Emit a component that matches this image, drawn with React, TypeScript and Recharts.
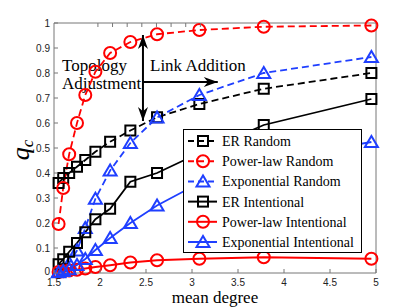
import React from "react";
import { ComposedChart, Line, XAxis, YAxis, ReferenceLine, Legend } from "recharts";

// mean degree positions shared by all six curves
const meanDegree = [1.55, 1.6, 1.665, 1.75, 1.84, 1.95, 2.11, 2.33, 2.62, 3.08, 3.78, 4.95];

const erRandom = [0.36, 0.38, 0.4, 0.425, 0.452, 0.485, 0.525, 0.57, 0.623, 0.676, 0.737, 0.8];
const plRandom = [0.196, 0.34, 0.475, 0.6, 0.712, 0.805, 0.88, 0.924, 0.955, 0.972, 0.985, 0.99];
const expRandom = [0.005, 0.015, 0.04, 0.09, 0.18, 0.297, 0.41, 0.52, 0.622, 0.712, 0.8, 0.864];
const erIntentional = [0.035, 0.055, 0.085, 0.12, 0.163, 0.215, 0.257, 0.365, 0.4, 0.48, 0.592, 0.696];
const plIntentional = [0.004, 0.007, 0.01, 0.013, 0.018, 0.024, 0.031, 0.042, 0.051, 0.057, 0.063, 0.057];
const expIntentional = [0.003, 0.008, 0.015, 0.032, 0.056, 0.092, 0.14, 0.2, 0.27, 0.36, 0.45, 0.524];

const xTicks = [1.5, 2, 2.5, 3, 3.5, 4, 4.5, 5];
const yTicks = [0, 0.1, 0.2, 0.3, 0.4, 0.5, 0.6, 0.7, 0.8, 0.9, 1];

const data = meanDegree.map((x, i) => ({
  x,
  erRandom: erRandom[i],
  plRandom: plRandom[i],
  expRandom: expRandom[i],
  erIntentional: erIntentional[i],
  plIntentional: plIntentional[i],
  expIntentional: expIntentional[i],
}));

const BLACK = "#000000";
const RED = "#ff0000";
const BLUE = "#1f3fff";
const DASH = "7 4";

const series = [
  { key: "erRandom", name: "ER Random", color: BLACK, dash: DASH, marker: "square" },
  { key: "plRandom", name: "Power-law Random", color: RED, dash: DASH, marker: "circle" },
  { key: "expRandom", name: "Exponential Random", color: BLUE, dash: DASH, marker: "triangle" },
  { key: "erIntentional", name: "ER Intentional", color: BLACK, dash: undefined, marker: "square" },
  { key: "plIntentional", name: "Power-law Intentional", color: RED, dash: undefined, marker: "circle" },
  { key: "expIntentional", name: "Exponential Intentional", color: BLUE, dash: undefined, marker: "triangle" },
];

const SERIF = "'Liberation Serif', 'Times New Roman', serif";
const SANS = "'Liberation Sans', Arial, sans-serif";
const FRAME = "#777";

function Marker({ kind, cx, cy, color }: any) {
  if (kind === "square") {
    return <rect x={cx - 5} y={cy - 5} width={10} height={10} fill="none" stroke={color} strokeWidth={2} />;
  }
  if (kind === "circle") {
    return <circle cx={cx} cy={cy} r={6} fill="none" stroke={color} strokeWidth={2} />;
  }
  return (
    <polygon
      points={`${cx},${cy - 6} ${cx - 6.5},${cy + 5} ${cx + 6.5},${cy + 5}`}
      fill="none"
      stroke={color}
      strokeWidth={2}
      strokeLinejoin="miter"
    />
  );
}

const makeDot = (kind: string, color: string) => (props: any) => {
  const { cx, cy, index } = props;
  if (cx == null || cy == null) return <g key={index} />;
  return (
    <g key={index}>
      <Marker kind={kind} cx={cx} cy={cy} color={color} />
    </g>
  );
};

const BottomTick = ({ x, y, payload }: any) => (
  <g>
    <line x1={x} x2={x} y1={y} y2={y - 4} stroke={FRAME} />
    <text x={x} y={y + 12.5} textAnchor="middle" fontSize={10} fontFamily={SANS} fill="#222">
      {payload.value}
    </text>
  </g>
);

const LeftTick = ({ x, y, payload }: any) => (
  <g>
    <line x1={x} x2={x + 4} y1={y} y2={y} stroke={FRAME} />
    {/* the 0 label sits a touch higher so it clears the 1.5 below it */}
    <text x={x - 4} y={y + (payload.value === 0 ? 1.6 : 3.5)} textAnchor="end" fontSize={10} fontFamily={SANS} fill="#222">
      {payload.value}
    </text>
  </g>
);

const TopTick = ({ x, y }: any) => <line x1={x} x2={x} y1={y} y2={y + 4} stroke={FRAME} />;
const RightTick = ({ x, y }: any) => <line x1={x} x2={x - 4} y1={y} y2={y} stroke={FRAME} />;

function head(tx: number, ty: number, dx: number, dy: number) {
  // stealth style arrow head pointing along (dx, dy)
  const len = 14;
  const half = 5;
  const px = -dy;
  const py = dx;
  const bx = tx - dx * len;
  const by = ty - dy * len;
  const nx = tx - dx * len * 0.7;
  const ny = ty - dy * len * 0.7;
  return `${tx},${ty} ${bx + px * half},${by + py * half} ${nx},${ny} ${bx - px * half},${by - py * half}`;
}

const arrowShape = (both: boolean) => (props: any) => {
  const { x1, y1, x2, y2 } = props;
  const l = Math.hypot(x2 - x1, y2 - y1) || 1;
  const dx = (x2 - x1) / l;
  const dy = (y2 - y1) / l;
  return (
    <g>
      <line x1={x1} y1={y1} x2={x2} y2={y2} stroke="#000" strokeWidth={2} />
      <polygon points={head(x2, y2, dx, dy)} fill="#000" />
      {both && <polygon points={head(x1, y1, -dx, -dy)} fill="#000" />}
    </g>
  );
};

function LegendBox() {
  return (
    <div
      style={{
        width: 179,
        height: 124,
        boxSizing: "border-box",
        border: "1px solid #000",
        background: "#fff",
      }}
    >
      <svg width={177} height={122} style={{ display: "block" }}>
        {series.map((s, i) => {
          const y = 11 + i * 20.2;
          return (
            <g key={s.key}>
              <line x1={4} x2={33} y1={y} y2={y} stroke={s.color} strokeWidth={2} strokeDasharray={s.dash ? "6 4" : undefined} />
              <Marker kind={s.marker} cx={19} cy={y} color={s.color} />
              <text x={38} y={y + 5} fontSize={14} fontFamily={SERIF} fill="#000">
                {s.name}
              </text>
            </g>
          );
        })}
      </svg>
    </div>
  );
}

export default function App() {
  return (
    <div style={{ position: "absolute", left: 0, top: 0, width: 415, height: 307, background: "#fff" }}>
      <ComposedChart width={415} height={307} data={data} margin={{ top: 13, right: 29, bottom: 4, left: 4 }}>
        <XAxis
          dataKey="x"
          type="number"
          domain={[1.5, 5]}
          ticks={xTicks}
          height={30}
          tickSize={0}
          tickMargin={0}
          tickLine={false}
          axisLine={{ stroke: FRAME }}
          tick={<BottomTick />}
          interval={0}
        />
        <XAxis
          xAxisId="top"
          orientation="top"
          type="number"
          domain={[1.5, 5]}
          ticks={xTicks}
          height={10}
          tickSize={0}
          tickMargin={0}
          tickLine={false}
          axisLine={{ stroke: FRAME }}
          tick={<TopTick />}
          interval={0}
        />
        <YAxis
          type="number"
          domain={[0, 1]}
          ticks={yTicks}
          width={50}
          tickSize={0}
          tickMargin={0}
          tickLine={false}
          axisLine={{ stroke: FRAME }}
          tick={<LeftTick />}
          interval={0}
        />
        <YAxis
          yAxisId="right"
          orientation="right"
          type="number"
          domain={[0, 1]}
          ticks={yTicks}
          width={10}
          tickSize={0}
          tickMargin={0}
          tickLine={false}
          axisLine={{ stroke: FRAME }}
          tick={<RightTick />}
          interval={0}
        />
        {series.map((s) => (
          <Line
            key={s.key}
            dataKey={s.key}
            name={s.name}
            type="linear"
            stroke={s.color}
            strokeWidth={1.8}
            strokeDasharray={s.dash}
            dot={makeDot(s.marker, s.color)}
            activeDot={false}
            isAnimationActive={false}
          />
        ))}
        <ReferenceLine
          segment={[
            { x: 2.467, y: 0.608 },
            { x: 2.467, y: 0.952 },
          ]}
          shape={arrowShape(true)}
        />
        <ReferenceLine
          segment={[
            { x: 2.467, y: 0.764 },
            { x: 3.28, y: 0.764 },
          ]}
          shape={arrowShape(false)}
        />
        <text x={62} y={71} fontSize={17} fontFamily={SERIF} fill="#000">
          Topology
        </text>
        <text x={62} y={89} fontSize={17} fontFamily={SERIF} fill="#000">
          Adjustment
        </text>
        <text x={150} y={71} fontSize={17} fontFamily={SERIF} fill="#000">
          Link Addition
        </text>
        <text x={215} y={303} textAnchor="middle" fontSize={17} fontFamily={SERIF} fill="#000">
          mean degree
        </text>
        <text
          x={29}
          y={150}
          textAnchor="middle"
          transform="rotate(-90 29 150)"
          fontFamily={SERIF}
          fill="#000"
        >
          <tspan fontSize={26} fontStyle="italic">q</tspan>
          <tspan fontSize={17} fontStyle="italic" dy={4}>c</tspan>
        </text>
        <Legend
          layout="vertical"
          align="center"
          verticalAlign="middle"
          wrapperStyle={{ left: 183, top: 129, width: 179, height: 124 }}
          content={() => <LegendBox />}
        />
      </ComposedChart>
    </div>
  );
}
